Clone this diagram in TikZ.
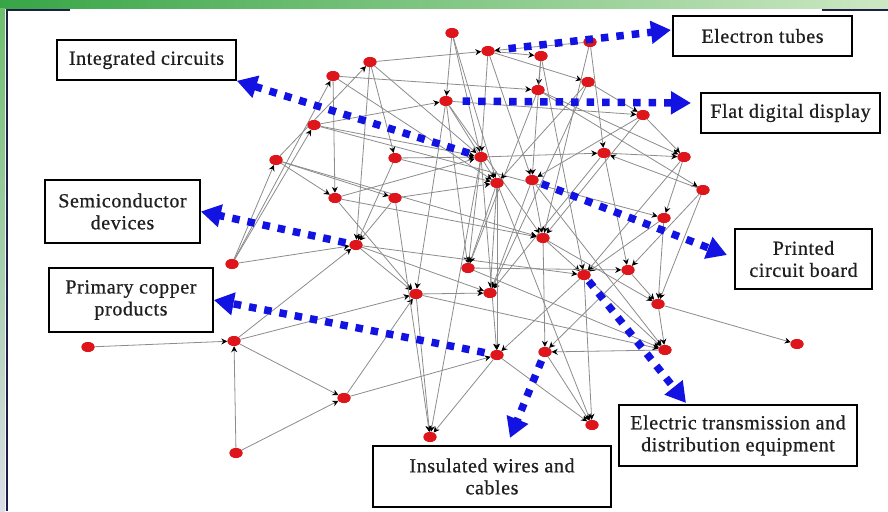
\documentclass[tikz,border=0pt]{standalone}
\usepackage{fontspec}
\setmainfont{Liberation Serif}
\newfontfamily\labelfont{Liberation Serif}[FakeBold=0.7,LetterSpace=3]
\usetikzlibrary{shapes.geometric,arrows.meta}
\definecolor{nodered}{RGB}{222,22,28}
\definecolor{arrowblue}{RGB}{18,18,226}
\definecolor{edgegray}{RGB}{140,140,140}
\definecolor{framenavy}{RGB}{30,30,70}
\begin{document}
\begin{tikzpicture}[x=1pt,y=-1pt,
  gn/.style={ellipse,fill=nodered,minimum width=13pt,minimum height=10pt,inner sep=0pt},
  edge/.style={draw=edgegray,line width=0.8pt,-{Stealth[black,length=6pt,width=6pt]}},
  bluearrow/.style={draw=arrowblue,line width=7.5pt,dash pattern=on 7.5pt off 8pt,
    -{Triangle[length=20pt,width=22pt,fill=arrowblue]}},
  lbl/.style={draw=black,line width=1.6pt,fill=white,align=center,inner sep=0pt,
    text=black!88,font=\labelfont\fontsize{20}{22}\selectfont}]
\useasboundingbox (0,0) rectangle (888,511);
\fill[white] (0,0) rectangle (888,511);
% header band and side strip
\shade[left color={rgb,255:red,55;green,165;blue,70},middle color={rgb,255:red,125;green,200;blue,125},
  right color={rgb,255:red,205;green,232;blue,195}] (0,0) rectangle (888,9);
\shade[top color={rgb,255:red,110;green,190;blue,110},bottom color={rgb,255:red,220;green,222;blue,232}]
  (0,9) rectangle (5,511);
% frame
\draw[framenavy,line width=2pt] (70,10) -- (7,10) -- (7,511);
\draw[framenavy,line width=2pt] (822,10) -- (888,10);

% network nodes
\node[gn] (a1) at (452,33) {};
\node[gn] (a2) at (488,51) {};
\node[gn] (a3) at (541,56) {};
\node[gn] (a4) at (590,42) {};
\node[gn] (a5) at (370,62) {};
\node[gn] (a6) at (333,76) {};
\node[gn] (a7) at (538,90) {};
\node[gn] (a8) at (588,82) {};
\node[gn] (a9) at (446,101) {};
\node[gn] (a10) at (643,115) {};
\node[gn] (a11) at (314,125) {};
\node[gn] (a12) at (276,160) {};
\node[gn] (a13) at (395,158) {};
\node[gn] (a14) at (481,157) {};
\node[gn] (a15) at (604,153) {};
\node[gn] (a16) at (684,157) {};
\node[gn] (a17) at (335,198) {};
\node[gn] (a18) at (395,198) {};
\node[gn] (a19) at (497,183) {};
\node[gn] (a20) at (532,180) {};
\node[gn] (a21) at (703,190) {};
\node[gn] (a22) at (664,218) {};
\node[gn] (a23) at (356,245) {};
\node[gn] (a24) at (543,238) {};
\node[gn] (a25) at (232,264) {};
\node[gn] (a26) at (468,268) {};
\node[gn] (a27) at (584,275) {};
\node[gn] (a28) at (628,270) {};
\node[gn] (a29) at (416,294) {};
\node[gn] (a30) at (490,293) {};
\node[gn] (a31) at (658,304) {};
\node[gn] (a32) at (88,347) {};
\node[gn] (a33) at (234,341) {};
\node[gn] (a34) at (497,355) {};
\node[gn] (a35) at (545,352) {};
\node[gn] (a36) at (665,350) {};
\node[gn] (a37) at (797,344) {};
\node[gn] (a38) at (344,398) {};
\node[gn] (a39) at (236,453) {};
\node[gn] (a40) at (430,437) {};
\node[gn] (a41) at (592,425) {};

% directed links
\foreach \s/\t in {a32/a33,a39/a33,a39/a38,a33/a38,a38/a34,a38/a29,a29/a40,a34/a40,a34/a41,
  a35/a41,a31/a37,a25/a12,a25/a11,a25/a23,a33/a23,a33/a29,a5/a2,a5/a23,a6/a17,a6/a7,
  a11/a14,a12/a18,a12/a24,a1/a9,a1/a19,a1/a14,a2/a14,a2/a20,a2/a3,a2/a8,a3/a7,a4/a15,
  a4/a2,a9/a10,a9/a19,a9/a24,a9/a26,a8/a10,a7/a21,a10/a20,a10/a16,a15/a16,a15/a30,
  a15/a28,a16/a22,a21/a15,a21/a31,a22/a27,a22/a31,a13/a14,a13/a23,a14/a15,a17/a14,
  a17/a29,a18/a19,a18/a23,a19/a30,a19/a26,a19/a34,a19/a41,a20/a24,a20/a36,a20/a30,
  a24/a27,a24/a35,a24/a31,a23/a29,a23/a30,a23/a27,a26/a36,a26/a28,a27/a34,a27/a41,
  a27/a36,a28/a31,a28/a35,a29/a30,a29/a36,a31/a36,a36/a35,a12/a17,a11/a9,a11/a22,
  a5/a14,a6/a19,a14/a26,a14/a34,a14/a40,a3/a27,a8/a30,a10/a24,a16/a27,a21/a28,a7/a16,
  a9/a29,a18/a40,a5/a13,a13/a19,a3/a20,a4/a24,a7/a26,a8/a19,a17/a24,a12/a5,a25/a6}
  \draw[edge] (\s) -- (\t);
\foreach \n in {1,...,41} \node[gn] at (a\n) {};

% industry labels
\node[lbl,minimum width=179pt,minimum height=40pt] (ic) at (146.5,60) {Integrated circuits};
\node[lbl,minimum width=179pt,minimum height=40pt] (et) at (762.5,36) {Electron tubes};
\node[lbl,minimum width=179pt,minimum height=40pt] (fd) at (790.5,113) {Flat digital display};
\node[lbl,minimum width=155pt,minimum height=63pt] (sd) at (122.5,211.5) {Semiconductor\\devices};
\node[lbl,minimum width=164pt,minimum height=64pt] (pc) at (131,300) {Primary copper\\products};
\node[lbl,minimum width=137pt,minimum height=60pt] (pcb) at (803.5,259) {Printed\\circuit board};
\node[lbl,minimum width=238pt,minimum height=61pt] (ete) at (738,435.5) {Electric transmission and\\distribution equipment};
\node[lbl,minimum width=238pt,minimum height=61pt] (iw) at (492,476.5) {Insulated wires and\\cables};

% arrow end points beside the labels
\coordinate (etend) at (671,30);
\coordinate (fdend) at (691,103);
\coordinate (pcbend) at (727,255);
\coordinate (iwend) at (510,438);
\coordinate (eteend) at (686,403);

% highlighted links to industries
\draw[bluearrow,shorten <=6pt] (a14) -- (ic.south east);
\draw[bluearrow,shorten <=14pt] (a2) -- (etend);
\draw[bluearrow,shorten <=10pt] (a9) -- (fdend);
\draw[bluearrow,shorten <=4pt] (a20) -- (pcbend);
\draw[bluearrow,shorten <=4pt] (a23) -- (sd.east);
\draw[bluearrow,shorten <=6pt] (a34) -- (pc.east);
\draw[bluearrow,shorten <=4pt] (a35) -- (iwend);
\draw[bluearrow,shorten <=2pt] (a27) -- (eteend);
\end{tikzpicture}
\end{document}
